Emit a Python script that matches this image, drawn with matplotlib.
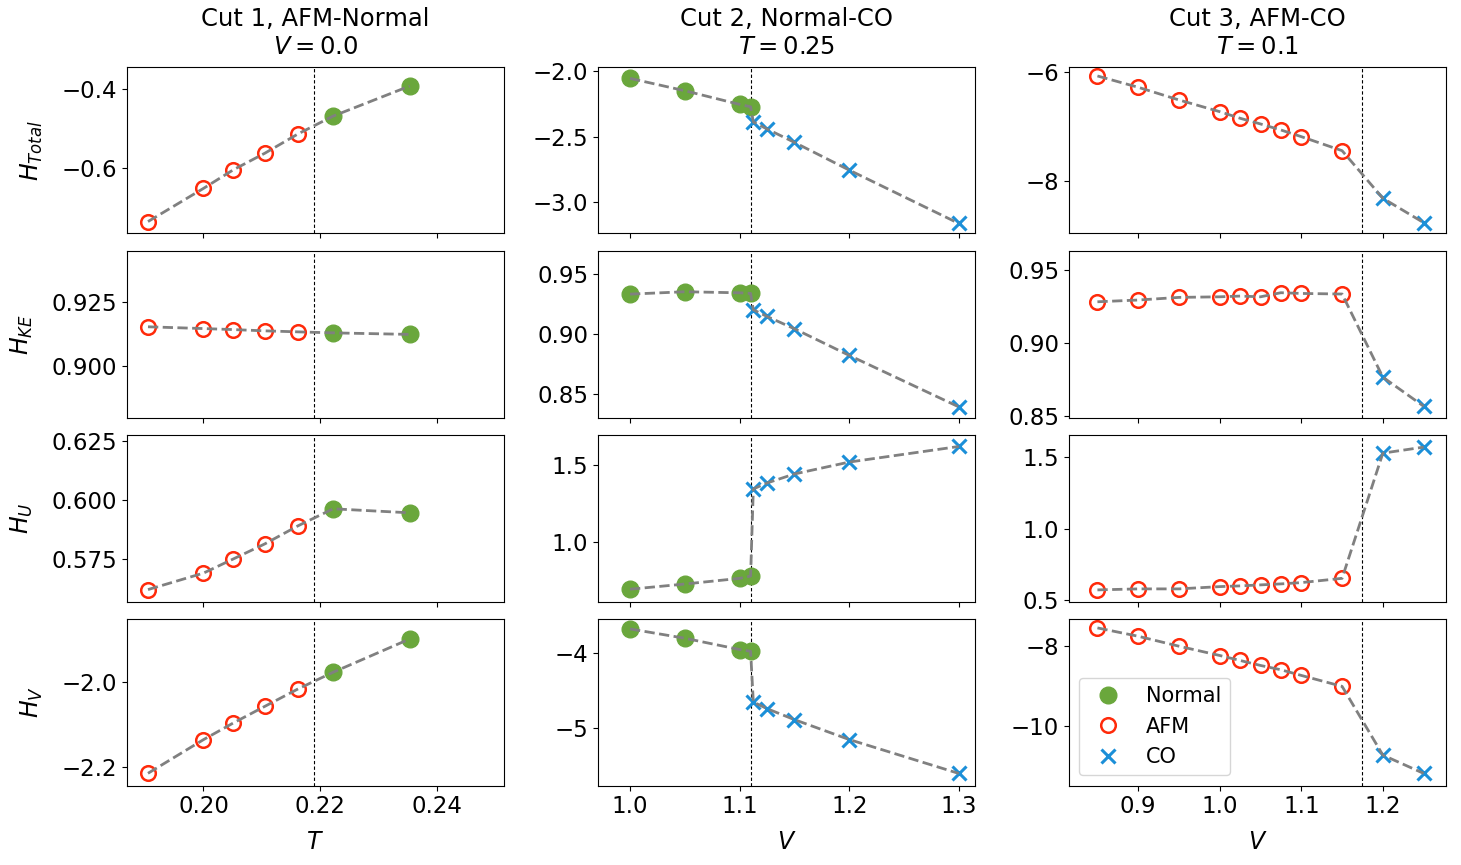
import numpy as np
import matplotlib
matplotlib.use("Agg")
import matplotlib.pyplot as plt
from matplotlib.ticker import FuncFormatter

# ---- data ----
# Cut 1: AFM -> Normal along T at V = 0
T_afm = [0.1905, 0.2000, 0.2051, 0.2105, 0.2162]
T_nor = [0.2222, 0.2353]
c1_afm = {
    "Total": [-0.735, -0.651, -0.604, -0.562, -0.513],
    "KE": [0.9154, 0.9147, 0.9143, 0.9138, 0.9134],
    "U": [0.5620, 0.5690, 0.5750, 0.5814, 0.5891],
    "V": [-2.214, -2.135, -2.096, -2.057, -2.016],
}
c1_nor = {
    "Total": [-0.468, -0.392],
    "KE": [0.9130, 0.9124],
    "U": [0.5963, 0.5946],
    "V": [-1.977, -1.899],
}
c1_trans = 0.219

# Cut 2: Normal -> CO along V at T = 0.25
V2_nor = [1.0, 1.05, 1.10, 1.11]
V2_co = [1.1125, 1.125, 1.15, 1.20, 1.30]
c2_nor = {
    "Total": [-2.056, -2.150, -2.254, -2.272],
    "KE": [0.9332, 0.9352, 0.9343, 0.9338],
    "U": [0.690, 0.724, 0.761, 0.776],
    "V": [-3.682, -3.806, -3.956, -3.979],
}
c2_co = {
    "Total": [-2.388, -2.441, -2.543, -2.754, -3.160],
    "KE": [0.9201, 0.9145, 0.9042, 0.8819, 0.8388],
    "U": [1.346, 1.385, 1.444, 1.522, 1.624],
    "V": [-4.655, -4.743, -4.889, -5.154, -5.605],
}
c2_trans = 1.1105

# Cut 3: AFM -> CO along V at T = 0.1
V3_afm = [0.85, 0.90, 0.95, 1.0, 1.025, 1.05, 1.075, 1.10, 1.15]
V3_co = [1.20, 1.25]
c3_afm = {
    "Total": [-6.068, -6.277, -6.511, -6.727, -6.849, -6.954, -7.065, -7.188, -7.447],
    "KE": [0.9283, 0.9295, 0.9313, 0.9317, 0.9322, 0.9317, 0.9345, 0.9340, 0.9336],
    "U": [0.570, 0.577, 0.577, 0.593, 0.598, 0.605, 0.612, 0.621, 0.651],
    "V": [-7.561, -7.769, -8.017, -8.248, -8.372, -8.496, -8.603, -8.744, -9.016],
}
c3_co = {
    "Total": [-8.325, -8.775],
    "KE": [0.8767, 0.8568],
    "U": [1.528, 1.570],
    "V": [-10.727, -11.182],
}
c3_trans = 1.175

quantities = ["Total", "KE", "U", "V"]
ylabels = [r"$H_{Total}$", r"$H_{KE}$", r"$H_U$", r"$H_V$"]
titles = ["Cut 1, AFM-Normal\n$V = 0.0$",
          "Cut 2, Normal-CO\n$T = 0.25$",
          "Cut 3, AFM-CO\n$T = 0.1$"]
xlabels = ["$T$", "$V$", "$V$"]

xlims = [(0.1869, 0.2514), (0.9707, 1.3145), (0.815, 1.277)]
ylims = [
    [(-0.765, -0.343), (0.8796, 0.9454), (0.5569, 0.6277), (-2.243, -1.852)],
    [(-3.236, -1.967), (0.8299, 0.9695), (0.609, 1.700), (-5.768, -3.549)],
    [(-8.974, -5.897), (0.8491, 0.9632), (0.488, 1.656), (-11.488, -7.338)],
]
xticks = [[0.20, 0.22, 0.24], [1.0, 1.1, 1.2, 1.3], [0.9, 1.0, 1.1, 1.2]]
yticks = [
    [[-0.6, -0.4], [0.900, 0.925], [0.575, 0.600, 0.625], [-2.2, -2.0]],
    [[-3.0, -2.5, -2.0], [0.85, 0.90, 0.95], [1.0, 1.5], [-5, -4]],
    [[-8, -6], [0.85, 0.90, 0.95], [0.5, 1.0, 1.5], [-10, -8]],
]
ydec = [[1, 3, 3, 1], [1, 2, 1, 0], [0, 2, 1, 0]]
xdec = [2, 1, 1]

green = "#6aa73c"
red = "#ff2a0a"
blue = "#1b8fd8"


def fmt(dec):
    return FuncFormatter(lambda v, p: f"{v:.{dec}f}".replace("-", "\u2212"))


fig, axes = plt.subplots(4, 3, figsize=(14.61, 8.65), dpi=100, sharex="col")
fig.subplots_adjust(left=0.0869, right=0.9895, top=0.9229, bottom=0.0917,
                    wspace=0.25, hspace=0.104)

cuts = [
    (T_afm, c1_afm, "afm", T_nor, c1_nor, "nor", c1_trans),
    (V2_nor, c2_nor, "nor", V2_co, c2_co, "co", c2_trans),
    (V3_afm, c3_afm, "afm", V3_co, c3_co, "co", c3_trans),
]


def draw(ax, x, y, kind):
    if kind == "nor":
        return ax.plot(x, y, "o", color=green, ms=12, ls="none", zorder=2)[0]
    elif kind == "afm":
        return ax.plot(x, y, "o", mfc="none", mec=red, mew=1.8, ms=10.5, ls="none", zorder=2)[0]
    return ax.plot(x, y, "x", color=blue, mew=2.2, ms=10.5, ls="none", zorder=2)[0]


for j, (xa, da, ka, xb, db, kb, xt) in enumerate(cuts):
    for i, q in enumerate(quantities):
        ax = axes[i, j]
        draw(ax, xa, da[q], ka)
        draw(ax, xb, db[q], kb)
        ax.plot(list(xa) + list(xb), list(da[q]) + list(db[q]),
                "--", color="gray", lw=2, zorder=3)
        ax.axvline(xt, color="black", lw=0.8, ls=(0, (3, 2)), zorder=1)
        ax.set_xlim(*xlims[j])
        ax.set_ylim(*ylims[j][i])
        ax.set_xticks(xticks[j])
        ax.set_yticks(yticks[j][i])
        ax.yaxis.set_major_formatter(fmt(ydec[j][i]))
        ax.tick_params(labelsize=16.5)
        if j == 0:
            ax.set_ylabel(ylabels[i], fontsize=17, labelpad=12)
    axes[0, j].set_title(titles[j], fontsize=17.5, pad=9)
    axes[3, j].set_xlabel(xlabels[j], fontsize=17, labelpad=8)
    axes[3, j].xaxis.set_major_formatter(fmt(xdec[j]))

# legend in the last panel
ax = axes[3, 2]
h1, = ax.plot([], [], "o", color=green, ms=12, ls="none")
h2, = ax.plot([], [], "o", mfc="none", mec=red, mew=1.8, ms=10.5, ls="none")
h3, = ax.plot([], [], "x", color=blue, mew=2.2, ms=10.5, ls="none")
ax.legend([h1, h2, h3], ["Normal", "AFM", "CO"], loc="lower left", fontsize=15)

fig.savefig("out.png", dpi=100)
